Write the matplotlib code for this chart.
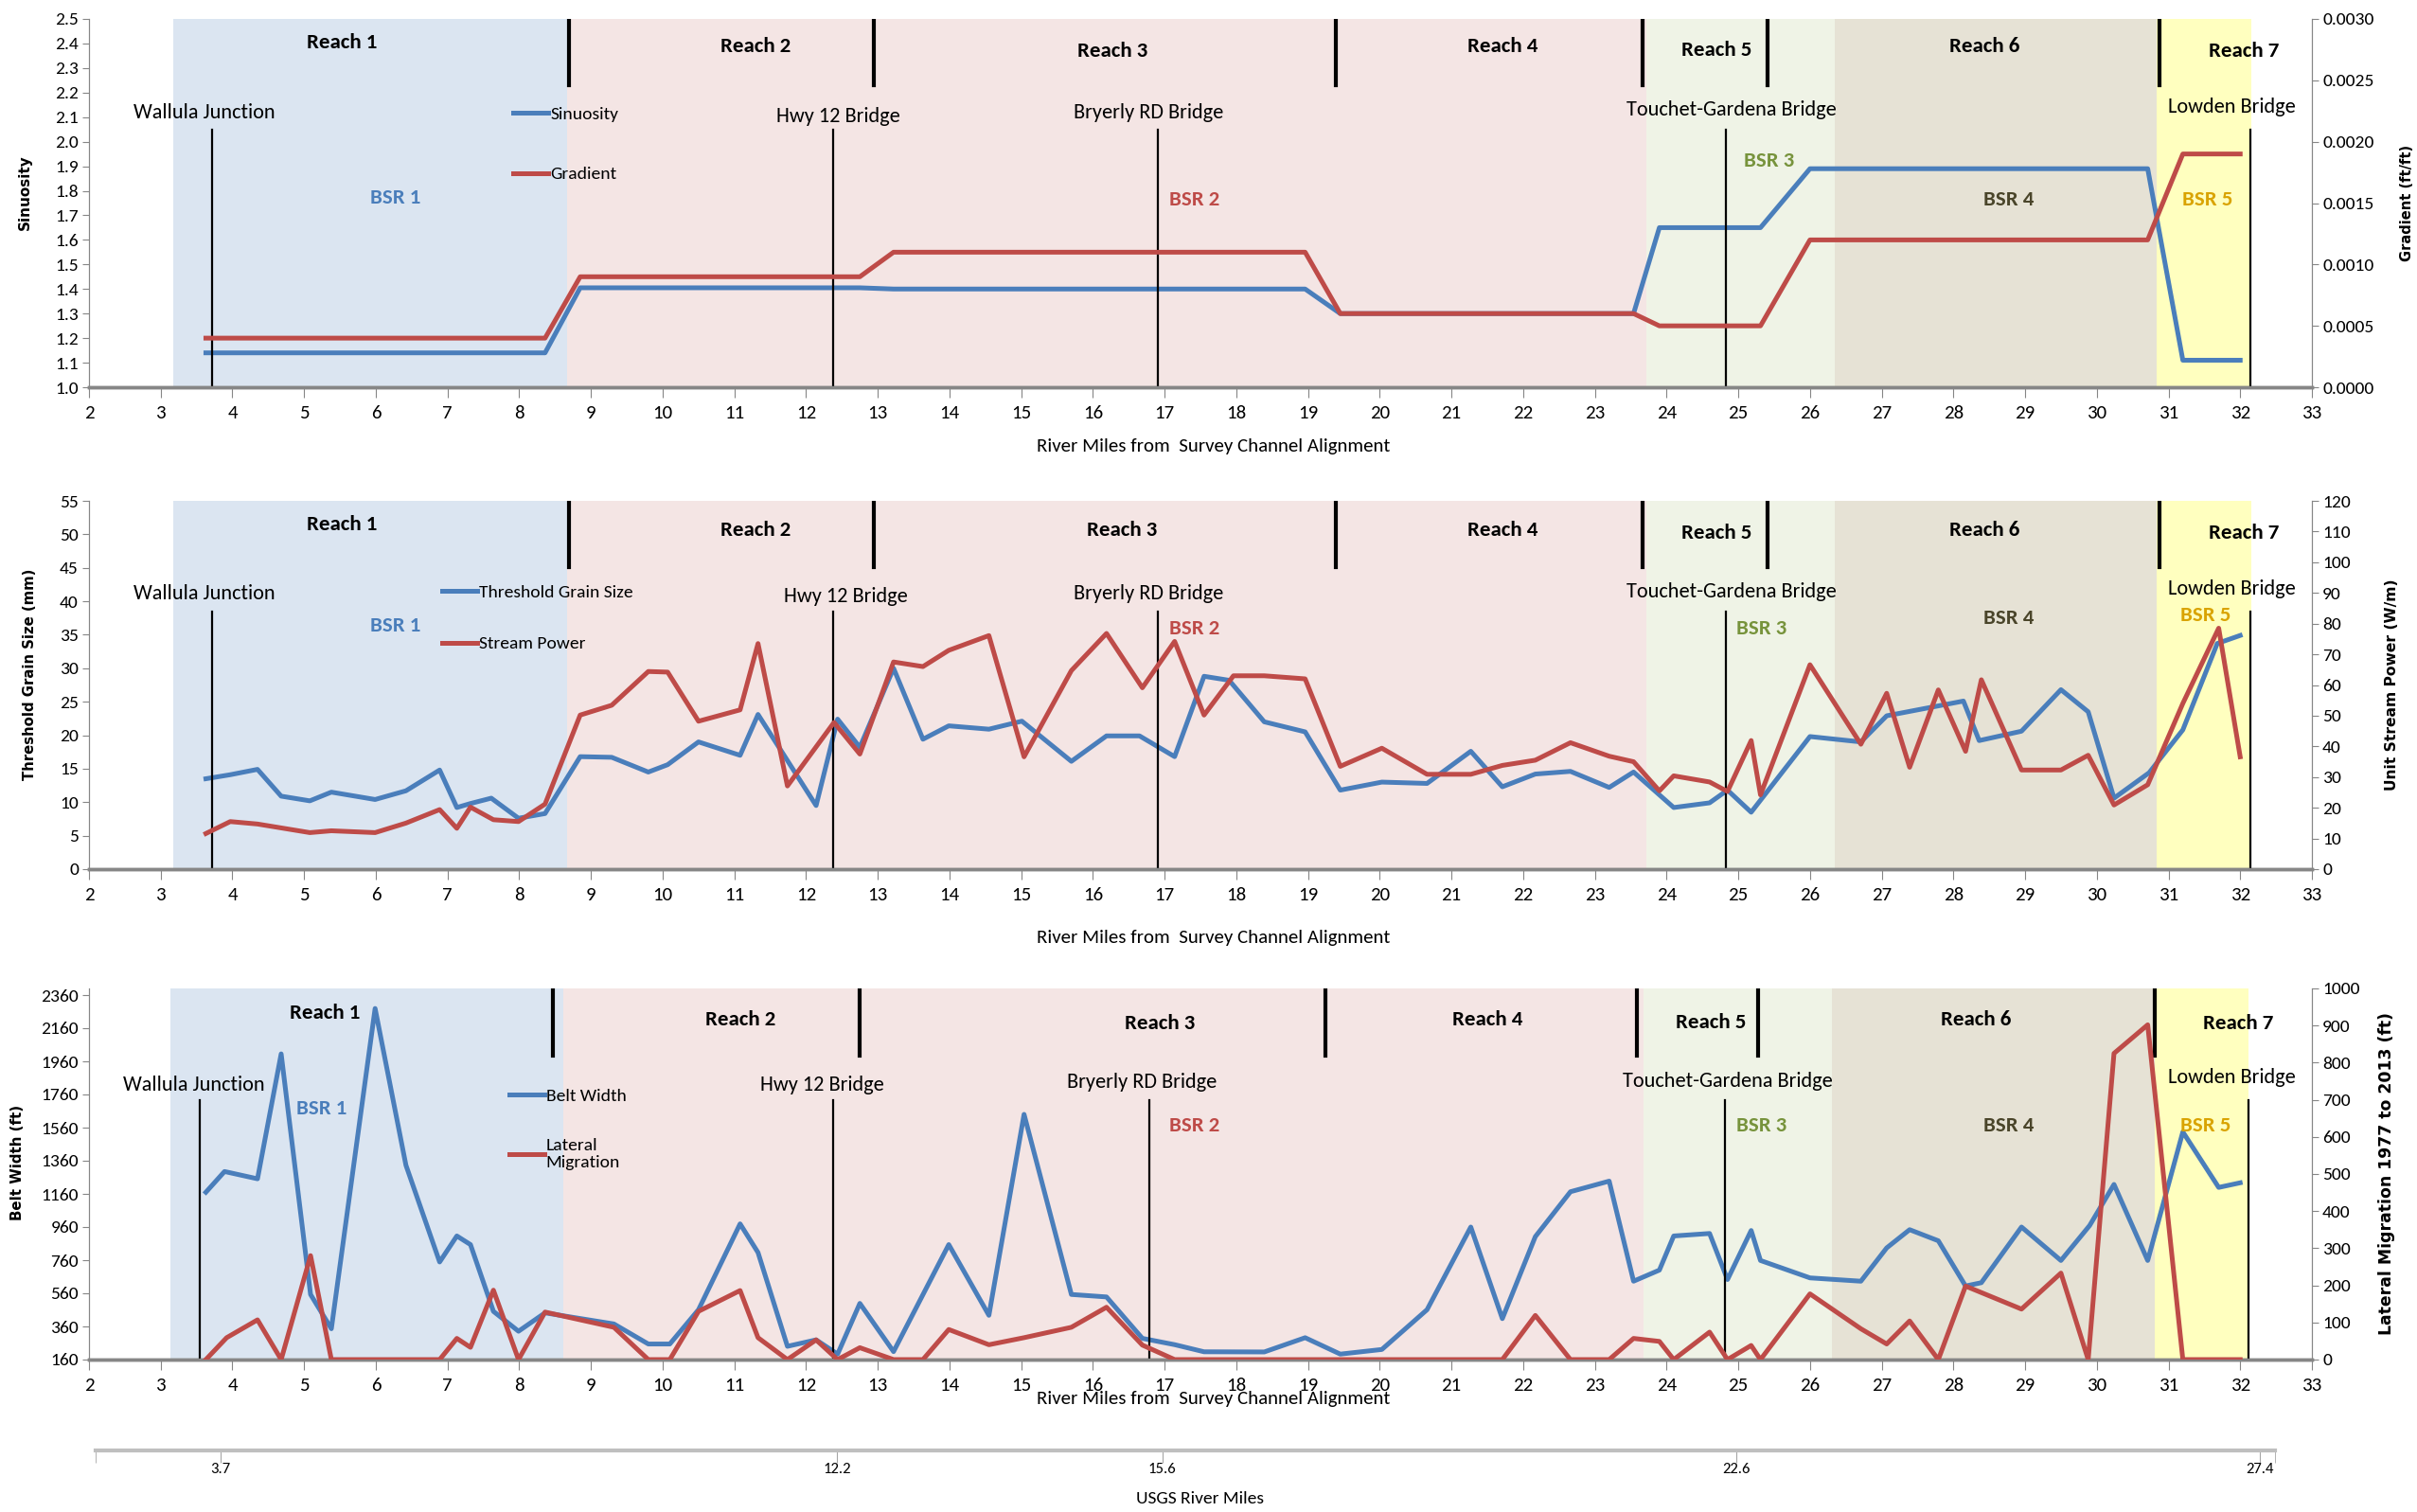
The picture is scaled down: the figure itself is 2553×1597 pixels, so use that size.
import matplotlib
matplotlib.use('Agg')
import matplotlib.pyplot as plt
from matplotlib.ticker import FormatStrFormatter

plt.rcParams['font.family'] = ['Carlito', 'Lato', 'DejaVu Sans']

BLUE = '#4a7ebb'
RED = '#be4b48'
GRAY = '#868686'

# ---------------- data (river miles from survey channel alignment) ----------------
sin_x = [3.63, 8.36, 8.85, 12.75, 13.22, 18.96, 19.45, 23.54, 23.9, 25.31, 26.0, 30.71, 31.2, 32.0]
sin_y = [1.14, 1.14, 1.405, 1.405, 1.40, 1.40, 1.30, 1.30, 1.65, 1.65, 1.89, 1.89, 1.11, 1.11]
grad_x = [3.63, 8.36, 8.85, 12.75, 13.22, 18.96, 19.45, 23.54, 23.9, 25.31, 26.0, 30.71, 31.2, 32.0]
grad_y = [0.0004, 0.0004, 0.0009, 0.0009, 0.0011, 0.0011, 0.0006, 0.0006, 0.0005, 0.0005,
          0.0012, 0.0012, 0.0019, 0.0019]

grain_x = [3.63, 3.97, 4.35, 4.68, 5.08, 5.38, 5.99, 6.42, 6.89, 7.13, 7.32, 7.61, 7.99, 8.36,
           8.85, 9.29, 9.80, 10.07, 10.5, 11.08, 11.33, 12.14, 12.44, 12.75, 13.22, 13.63, 13.99,
           14.55, 15.01, 15.70, 16.19, 16.65, 17.14, 17.55, 17.9, 18.39, 18.96, 19.45, 20.03,
           20.66, 21.27, 21.71, 22.17, 22.66, 23.2, 23.54, 24.1, 24.6, 24.85, 25.18, 26.0, 26.71,
           27.07, 28.14, 28.36, 28.95, 29.5, 29.88, 30.24, 30.73, 31.2, 31.68, 32.0]
grain_y = [13.5, 14.1, 14.9, 10.9, 10.2, 11.5, 10.4, 11.7, 14.8, 9.2, 9.8, 10.6, 7.6, 8.3,
           16.8, 16.7, 14.5, 15.6, 19.0, 17.0, 23.1, 9.5, 22.4, 18.2, 30.0, 19.4, 21.4,
           20.9, 22.1, 16.1, 19.9, 19.9, 16.8, 28.8, 28.2, 22.0, 20.5, 11.8, 13.0,
           12.8, 17.6, 12.3, 14.2, 14.6, 12.2, 14.5, 9.2, 9.9, 11.8, 8.5, 19.8, 19.0,
           22.9, 25.1, 19.2, 20.6, 26.8, 23.5, 10.6, 14.4, 20.8, 33.7, 34.9]

power_x = [3.63, 3.97, 4.35, 5.08, 5.38, 5.99, 6.42, 6.89, 7.13, 7.32, 7.64, 7.99, 8.36, 8.85,
           9.29, 9.80, 10.07, 10.5, 11.08, 11.33, 11.74, 12.39, 12.75, 13.22, 13.63, 13.99, 14.55,
           15.04, 15.70, 16.19, 16.69, 17.14, 17.55, 17.96, 18.39, 18.96, 19.45, 20.03, 20.66,
           21.27, 21.71, 22.17, 22.66, 23.2, 23.54, 23.9, 24.1, 24.6, 24.85, 25.18, 25.31, 26.0,
           26.71, 27.07, 27.39, 27.79, 28.17, 28.39, 28.95, 29.5, 29.88, 30.24, 30.71, 31.2,
           31.7, 32.0]
power_y = [11.6, 15.5, 14.7, 11.9, 12.5, 11.9, 15.0, 19.4, 13.3, 20.2, 16.1, 15.5, 21.2, 50.2,
           53.4, 64.4, 64.2, 48.2, 51.9, 73.5, 27.1, 47.8, 37.5, 67.5, 66.0, 71.3, 76.1,
           36.6, 64.7, 76.8, 59.1, 74.2, 50.2, 63.0, 63.0, 62.0, 33.5, 39.4, 30.9,
           30.9, 33.8, 35.5, 41.2, 36.8, 35.0, 25.5, 30.4, 28.4, 25.3, 41.9, 24.2, 66.6,
           40.7, 57.3, 33.2, 58.4, 38.4, 61.7, 32.3, 32.3, 37.1, 20.9, 27.5, 54.0,
           78.5, 36.6]

belt_x = [3.63, 3.89, 4.35, 4.68, 5.09, 5.38, 5.99, 6.42, 6.89, 7.13, 7.32, 7.64, 7.99, 8.36,
          9.32, 9.80, 10.1, 10.5, 11.08, 11.33, 11.74, 12.14, 12.44, 12.75, 13.22, 13.99, 14.55,
          15.04, 15.70, 16.19, 16.69, 17.14, 17.55, 18.39, 18.96, 19.45, 20.03, 20.66, 21.27,
          21.71, 22.17, 22.66, 23.2, 23.54, 23.9, 24.1, 24.6, 24.85, 25.18, 25.31, 26.0, 26.71,
          27.07, 27.39, 27.79, 28.17, 28.39, 28.95, 29.5, 29.9, 30.24, 30.71, 31.2, 31.7, 32.0]
belt_y = [1170, 1295, 1251, 2005, 553, 346, 2279, 1333, 749, 906, 854, 451, 331, 442,
          375, 254, 254, 461, 979, 806, 240, 279, 193, 499, 208, 854, 427,
          1640, 553, 538, 288, 250, 207, 206, 292, 193, 221, 461, 960,
          407, 902, 1173, 1237, 633, 700, 906, 921, 643, 939, 758, 653, 633,
          834, 944, 877, 604, 624, 960, 758, 969, 1217, 758, 1534, 1199, 1227]

lat_x = [3.63, 3.92, 4.35, 4.68, 5.09, 5.38, 6.89, 7.13, 7.32, 7.64, 7.99, 8.36, 9.32, 9.80,
         10.1, 10.5, 11.08, 11.33, 11.74, 12.14, 12.44, 12.75, 13.22, 13.63, 13.99, 14.55, 15.04,
         15.70, 16.19, 16.69, 17.14, 21.71, 22.17, 22.66, 23.2, 23.54, 23.9, 24.1, 24.6, 24.85,
         25.18, 25.31, 26.0, 26.71, 27.07, 27.39, 27.79, 28.17, 28.95, 29.5, 29.88, 30.24,
         30.71, 31.2, 32.0]
lat_y = [0, 59, 107, 0, 280, 0, 0, 57, 33, 187, 0, 128, 87, 0,
         0, 130, 186, 59, 0, 53, 0, 32, 0, 0, 81, 40, 59,
         87, 141, 39, 0, 0, 119, 0, 0, 57, 49, 0, 74, 0,
         38, 0, 177, 83, 42, 104, 0, 198, 136, 233, 0, 825,
         902, 0, 0]

reach_names = ['Reach 1', 'Reach 2', 'Reach 3', 'Reach 4', 'Reach 5', 'Reach 6', 'Reach 7']
bridge_names = ['Wallula Junction', 'Hwy 12 Bridge', 'Bryerly RD Bridge',
                'Touchet-Gardena Bridge', 'Lowden Bridge']
bsr_names = ['BSR 1', 'BSR 2', 'BSR 3', 'BSR 4', 'BSR 5']
bsr_colors = ['#4a7ebb', '#be4b48', '#77933c', '#4a452a', '#d9a300']
shade_colors = ['#dbe5f1', '#f4e5e4', '#eff3e6', '#e6e2d5', '#ffffbf']

# BSR boundaries, reach dividers and bridge locations
spans_top = [3.18, 8.67, 23.72, 26.34, 30.84, 32.15]
spans_bot = [3.14, 8.62, 23.68, 26.30, 30.81, 32.12]
dividers_top = [8.69, 12.94, 19.39, 23.67, 25.41, 30.87]
dividers_bot = [8.47, 12.75, 19.24, 23.58, 25.28, 30.81]
bridges_top = [3.72, 12.38, 16.90, 24.83, 32.14]
bridges_bot = [3.55, 12.38, 16.79, 24.81, 32.12]

usgs_pos = [3.83, 12.43, 16.97, 24.97, 32.28]
usgs_labels = ['3.7', '12.2', '15.6', '22.6', '27.4']

W, H = 2553, 1597
fig = plt.figure(figsize=(W / 100, H / 100), dpi=100)


def panel(top_px, bot_px):
    ax = fig.add_axes([94 / W, 1 - bot_px / H, 2348 / W, (bot_px - top_px) / H])
    ax2 = ax.twinx()
    for a in (ax, ax2):
        a.spines['top'].set_visible(False)
        a.spines['left'].set_color(GRAY)
        a.spines['right'].set_color(GRAY)
        a.spines['bottom'].set_color(GRAY)
        a.spines['bottom'].set_linewidth(2.5)
        a.tick_params(axis='y', direction='out', length=5, color=GRAY, labelsize=14, pad=3)
        a.tick_params(axis='x', direction='out', length=8, color=GRAY, labelsize=15, pad=6)
    ax.set_xlim(2, 33)
    ax.set_xticks(range(2, 34))
    return ax, ax2


def decorate(ax, spans, dividers, bridges, reach_xy, bridge_xy, bsr_xy):
    tr = ax.get_xaxis_transform()
    for x0, x1, c in zip(spans[:-1], spans[1:], shade_colors):
        ax.axvspan(x0, x1, color=c, lw=0, zorder=0)
    for x in dividers:
        ax.axvline(x, ymin=0.82, ymax=1.0, color='black', lw=3, zorder=6)
    for x in bridges:
        ax.axvline(x, ymin=0.0, ymax=0.70, color='black', lw=1.6, zorder=6)
    for name, (x, y) in zip(reach_names, reach_xy):
        ax.text(x, y, name, transform=tr, ha='center', va='center', fontsize=16.5,
                fontweight='bold', zorder=7)
    for name, (x, y) in zip(bridge_names, bridge_xy):
        ax.text(x, y, name, transform=tr, ha='center', va='center', fontsize=16, zorder=7)
    for name, c, (x, y) in zip(bsr_names, bsr_colors, bsr_xy):
        ax.text(x, y, name, transform=tr, ha='center', va='center', fontsize=16.5,
                color=c, fontweight='bold', zorder=7)


def labels(ax, ax2, left, right, lsize, rsize, lx, rx, xy):
    ax.set_xlabel('River Miles from  Survey Channel Alignment', fontsize=15)
    ax.xaxis.set_label_coords(0.506, xy)
    ax.set_ylabel(left, fontfamily='DejaVu Sans', fontweight='bold', fontsize=lsize)
    ax2.set_ylabel(right, fontfamily='DejaVu Sans', fontweight='bold', fontsize=rsize)
    ax.yaxis.set_label_coords(lx, 0.53)
    ax2.yaxis.set_label_coords(rx, 0.5)


# ---------------- top panel: sinuosity / gradient ----------------
ax, ax2 = panel(20, 409)
h1, = ax.plot(sin_x, sin_y, color=BLUE, lw=3.6, zorder=3)
h2, = ax2.plot(grad_x, grad_y, color=RED, lw=3.6, zorder=3)
ax.set_ylim(1.0, 2.5)
ax.set_yticks([1.0 + 0.1 * i for i in range(16)])
ax.yaxis.set_major_formatter(FormatStrFormatter('%.1f'))
ax2.set_ylim(0, 0.003)
ax2.set_yticks([0.0005 * i for i in range(7)])
ax2.yaxis.set_major_formatter(FormatStrFormatter('%.4f'))
labels(ax, ax2, 'Sinuosity', 'Gradient (ft/ft)', 11, 10.5, -0.0256, 1.0396, -0.14)
decorate(ax, spans_top, dividers_top, bridges_top,
         [(5.53, 0.937), (11.29, 0.925), (16.27, 0.912), (21.71, 0.925), (24.70, 0.916),
          (28.44, 0.925), (32.05, 0.912)],
         [(3.61, 0.745), (12.45, 0.736), (16.77, 0.745), (24.9, 0.753), (31.88, 0.762)],
         [(6.28, 0.515), (17.41, 0.51), (25.43, 0.615), (28.77, 0.51), (31.54, 0.51)])
ax2.legend([h1, h2], ['Sinuosity', 'Gradient'], loc='upper left', bbox_to_anchor=(0.191, 0.762),
           frameon=False, fontsize=14, handlelength=1.9, handletextpad=0.1, labelspacing=2.4,
           borderpad=0, borderaxespad=0)

# ---------------- middle panel: grain size / stream power ----------------
ax, ax2 = panel(529, 918)
h1, = ax.plot(grain_x, grain_y, color=BLUE, lw=3.6, zorder=3)
h2, = ax2.plot(power_x, power_y, color=RED, lw=3.6, zorder=3)
ax.set_ylim(0, 55)
ax.set_yticks(range(0, 56, 5))
ax2.set_ylim(0, 120)
ax2.set_yticks(range(0, 121, 10))
labels(ax, ax2, 'Threshold Grain Size (mm)', 'Unit Stream Power (W/m)', 10.7, 11.2,
       -0.0234, 1.033, -0.165)
decorate(ax, spans_top, dividers_top, bridges_top,
         [(5.53, 0.937), (11.29, 0.92), (16.40, 0.92), (21.71, 0.92), (24.70, 0.912),
          (28.44, 0.92), (32.05, 0.912)],
         [(3.61, 0.749), (12.56, 0.741), (16.77, 0.749), (24.9, 0.753), (31.88, 0.762)],
         [(6.28, 0.661), (17.41, 0.653), (25.33, 0.653), (28.77, 0.682), (31.52, 0.69)])
ax2.legend([h1, h2], ['Threshold Grain Size', 'Stream Power'], loc='upper left',
           bbox_to_anchor=(0.159, 0.772), frameon=False, fontsize=14, handlelength=1.9,
           handletextpad=0.1, labelspacing=1.93, borderpad=0, borderaxespad=0)

# ---------------- bottom panel: belt width / lateral migration ----------------
ax, ax2 = panel(1044, 1436)
h1, = ax.plot(belt_x, belt_y, color=BLUE, lw=3.6, zorder=3)
h2, = ax2.plot(lat_x, lat_y, color=RED, lw=3.6, zorder=3)
ax.set_ylim(160, 2400)
ax.set_yticks(range(160, 2361, 200))
ax2.set_ylim(0, 1000)
ax2.set_yticks(range(0, 1001, 100))
labels(ax, ax2, 'Belt Width (ft)', 'Lateral Migration 1977 to 2013 (ft)', 10.8, 12.4,
       -0.029, 1.030, -0.083)
decorate(ax, spans_bot, dividers_bot, bridges_bot,
         [(5.29, 0.934), (11.09, 0.917), (16.94, 0.905), (21.50, 0.917), (24.62, 0.909),
          (28.31, 0.917), (31.97, 0.905)],
         [(3.46, 0.739), (12.23, 0.739), (16.68, 0.747), (24.85, 0.751), (31.88, 0.759)],
         [(5.25, 0.676), (17.41, 0.631), (25.33, 0.631), (28.77, 0.631), (31.52, 0.631)])
ax2.legend([h1, h2], ['Belt Width', 'Lateral\nMigration'], loc='upper left',
           bbox_to_anchor=(0.189, 0.732), frameon=False, fontsize=14, handlelength=1.9,
           handletextpad=0.1, labelspacing=1.85, borderpad=0, borderaxespad=0)

# ---------------- USGS river miles scale ----------------
axu = fig.add_axes([94 / W, 1 - 1532 / H, 2348 / W, 0.001])
axu.patch.set_visible(False)
axu.set_xlim(2, 33)
axu.set_yticks([])
for s in ['top', 'left', 'right']:
    axu.spines[s].set_visible(False)
axu.spines['bottom'].set_bounds(2.09, 32.48)
axu.spines['bottom'].set_color('#bfbfbf')
axu.spines['bottom'].set_linewidth(3)
axu.set_xticks(usgs_pos, usgs_labels)
axu.set_xticks([2.09, 32.48], minor=True)
axu.tick_params(axis='x', which='both', length=9, color='#a6a6a6', labelsize=12, pad=0)
axu.set_xlabel('USGS River Miles', fontsize=14, labelpad=12)

plt.savefig('out.png', dpi=100)
plt.close()
